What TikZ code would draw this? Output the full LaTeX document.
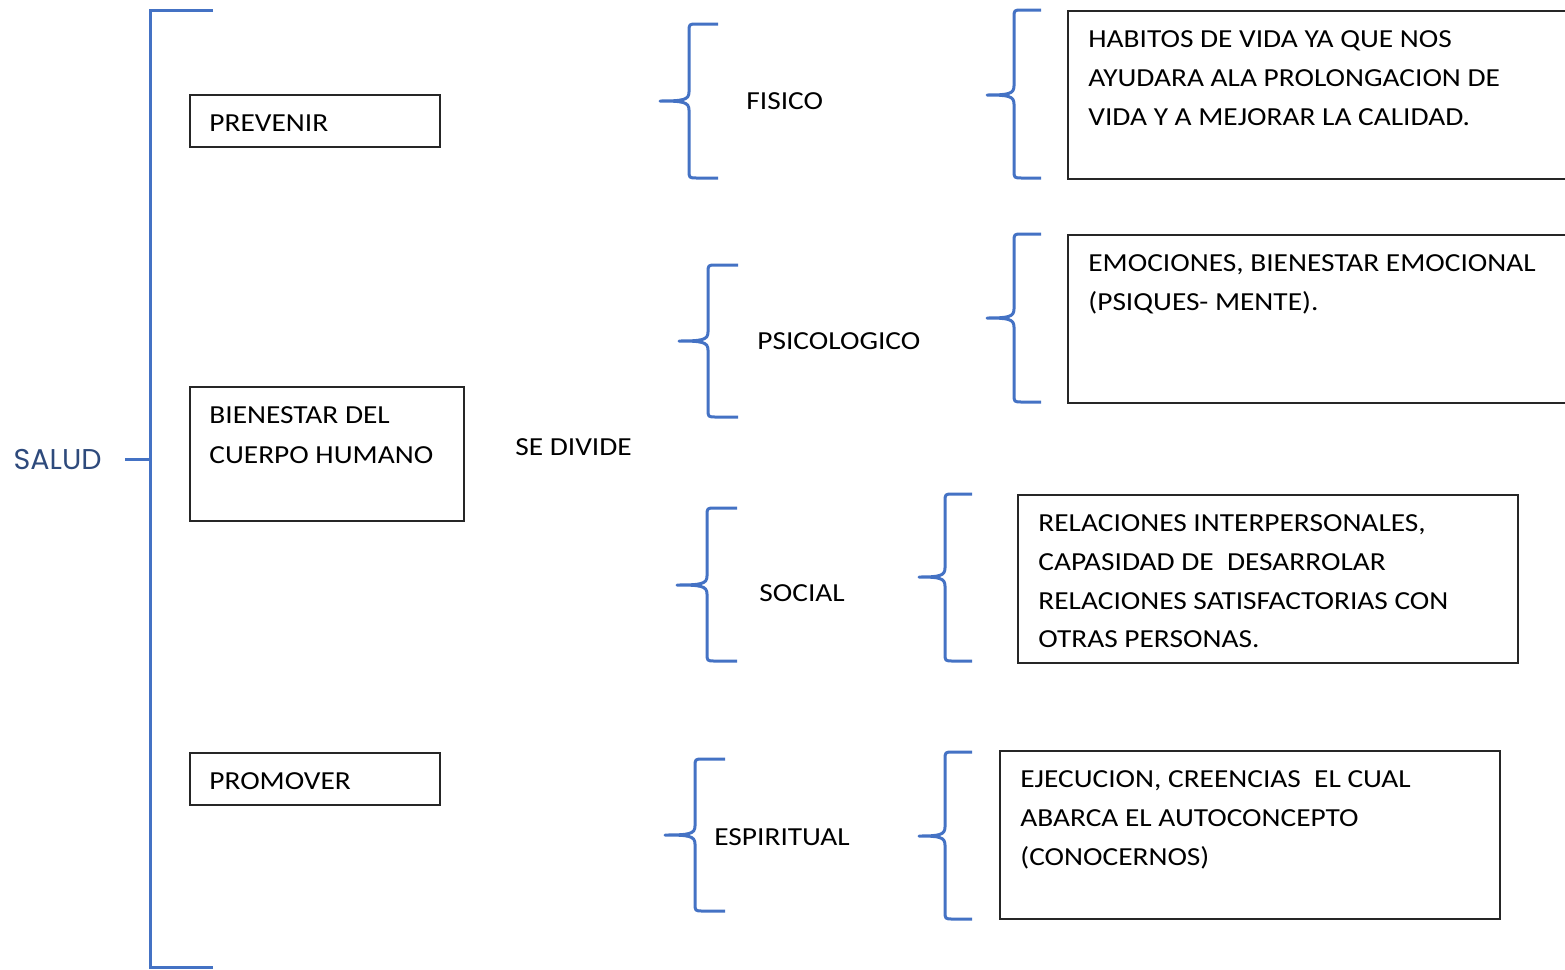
\documentclass[tikz,border=0pt]{standalone}
\usepackage{fontspec}
\setmainfont{Carlito}[FakeStretch=1.13]
\newfontfamily\saludfont{Poppins}
\definecolor{brblue}{HTML}{4472C4}
\definecolor{saludblue}{HTML}{2E4A7C}
\begin{document}
\begin{tikzpicture}[x=0.5pt,y=-0.5pt,
  line/.style={draw=brblue,line width=1.5pt},
  bx/.style={draw=black!85,line width=0.9pt,rectangle,inner sep=0pt},
  txt/.style={anchor=base west,inner sep=0pt,font=\fontsize{13}{15}\selectfont},
  brace/.style={draw=brblue,line width=1.5pt,line join=round}]
\useasboundingbox (0,0) rectangle (1565,970);
% main bracket
\coordinate (bt) at (213,10);
\coordinate (bb) at (213,967);
\coordinate (tick) at (125,459);
\draw[line] (bt) -- (150,10) -- (150,967) -- (bb);
\draw[line] (tick) -- (150,459);
\node[anchor=east,inner sep=0pt,text=saludblue,font=\saludfont\fontsize{14.3}{16}\selectfont] (salud) at (102,459) {SALUD};
% left boxes
\node[bx,minimum width=125pt,minimum height=26pt,anchor=north west] (prev) at (189,94) {};
\node[txt] (prevt) at (209,131) {PREVENIR};
\node[bx,minimum width=137pt,minimum height=67pt,anchor=north west] (bien) at (189,386) {};
\node[txt] (bient1) at (209,423) {BIENESTAR DEL};
\node[txt] (bient2) at (209,463) {CUERPO HUMANO};
\node[bx,minimum width=125pt,minimum height=26pt,anchor=north west] (prom) at (189,752) {};
\node[txt] (promt) at (209,789) {PROMOVER};
\node[txt] (sedivide) at (515,455) {SE DIVIDE};
% braces: tip x, vertical x, end x, top, mid, bottom
\newcommand{\brc}[6]{%
  \draw[brace] (#3,#4) -- ({#2+8},#4) .. controls (#2,#4) .. (#2,{#4+8}) -- (#2,{#5-9})
     .. controls (#2,{#5-1}) and ({#2-6},#5) .. (#1,#5)
     .. controls ({#2-6},#5) and (#2,{#5+1}) .. (#2,{#5+9}) -- (#2,{#6-8})
     .. controls (#2,#6) .. ({#2+8},#6) -- (#3,#6);}
\brc{660}{689}{718}{24}{101}{178}
\brc{679}{708}{738}{265}{341}{417}
\brc{677}{707}{737}{508}{585}{661}
\brc{665}{695}{725}{759}{835}{911}
\brc{987}{1014}{1041}{10}{95}{178}
\brc{987}{1014}{1041}{234}{318}{402}
\brc{919}{945}{972}{494}{577}{661}
\brc{919}{945}{972}{752}{836}{919}
% middle labels
\node[txt] (fisico) at (746,109) {FISICO};
\node[txt] (psico) at (757,349) {PSICOLOGICO};
\node[txt] (social) at (759,601) {SOCIAL};
\node[txt] (espi) at (714,845) {ESPIRITUAL};
% right boxes
\node[bx,minimum width=251pt,minimum height=84pt,anchor=north west] (b1) at (1067,10) {};
\node[txt] (b1a) at (1088,47) {HABITOS DE VIDA YA QUE NOS};
\node[txt] (b1b) at (1088,86) {AYUDARA ALA PROLONGACION DE};
\node[txt] (b1c) at (1088,125) {VIDA Y A MEJORAR LA CALIDAD.};
\node[bx,minimum width=251pt,minimum height=84pt,anchor=north west] (b2) at (1067,234) {};
\node[txt] (b2a) at (1088,271) {EMOCIONES, BIENESTAR EMOCIONAL};
\node[txt] (b2b) at (1088,310) {(PSIQUES- MENTE).};
\node[bx,minimum width=250pt,minimum height=84pt,anchor=north west] (b3) at (1017,494) {};
\node[txt] (b3a) at (1038,531) {RELACIONES INTERPERSONALES,};
\node[txt] (b3b) at (1038,570) {CAPASIDAD DE\ \ DESARROLAR};
\node[txt] (b3c) at (1038,609) {RELACIONES SATISFACTORIAS CON};
\node[txt] (b3d) at (1038,647) {OTRAS PERSONAS.};
\node[bx,minimum width=250pt,minimum height=84pt,anchor=north west] (b4) at (999,750) {};
\node[txt] (b4a) at (1020,787) {EJECUCION, CREENCIAS\ \ EL CUAL};
\node[txt] (b4b) at (1020,826) {ABARCA EL AUTOCONCEPTO};
\node[txt] (b4c) at (1020,865) {(CONOCERNOS)};
\end{tikzpicture}
\end{document}
